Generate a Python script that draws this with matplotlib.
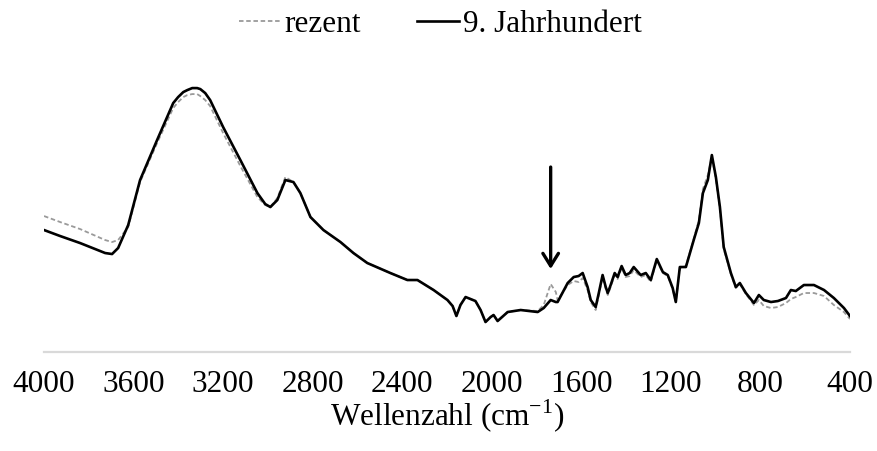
"""FTIR spectrum: rezent vs 9. Jahrhundert."""

import matplotlib

matplotlib.use("Agg")
import matplotlib.pyplot as plt
from matplotlib.patches import ArrowStyle

# wavenumber (cm-1) and absorbance (a.u.)
wavenumber = [4000, 3928, 3839, 3727, 3696, 3669, 3624, 3571, 3495, 3423,
              3401, 3378, 3360, 3338, 3316, 3302, 3280, 3258, 3200, 3123,
              3047, 3012, 2989, 2958, 2922, 2886, 2855, 2810, 2752, 2676,
              2618, 2556, 2453, 2377, 2332, 2260, 2198, 2175, 2158, 2140,
              2117, 2073, 2050, 2028, 2005, 1992, 1974, 1929, 1871, 1795,
              1768, 1737, 1714, 1706, 1661, 1634, 1612, 1594, 1572, 1558,
              1536, 1522, 1505, 1491, 1482, 1469, 1451, 1438, 1420, 1402,
              1384, 1366, 1335, 1312, 1290, 1263, 1236, 1214, 1192, 1178,
              1160, 1133, 1098, 1075, 1057, 1035, 1017, 999, 981, 964,
              932, 910, 892, 865, 829, 807, 785, 753, 722, 686,
              664, 642, 606, 561, 516, 472, 427, 400]

abs_9jh = [1.22, 1.16, 1.09, 0.99, 0.98, 1.04, 1.27, 1.72, 2.12, 2.49,
           2.55, 2.60, 2.62, 2.64, 2.64, 2.63, 2.59, 2.52, 2.25, 1.92,
           1.59, 1.48, 1.45, 1.52, 1.72, 1.70, 1.59, 1.35, 1.22, 1.10,
           0.99, 0.89, 0.79, 0.72, 0.72, 0.62, 0.52, 0.46, 0.36, 0.47,
           0.55, 0.51, 0.42, 0.30, 0.35, 0.37, 0.31, 0.40, 0.42, 0.40,
           0.44, 0.52, 0.50, 0.50, 0.69, 0.75, 0.76, 0.79, 0.65, 0.52,
           0.45, 0.59, 0.77, 0.65, 0.59, 0.67, 0.79, 0.75, 0.86, 0.77,
           0.79, 0.85, 0.77, 0.79, 0.72, 0.93, 0.80, 0.77, 0.64, 0.50,
           0.85, 0.85, 1.12, 1.29, 1.59, 1.72, 1.97, 1.75, 1.45, 1.05,
           0.79, 0.65, 0.69, 0.59, 0.49, 0.57, 0.52, 0.50, 0.51, 0.54,
           0.62, 0.61, 0.67, 0.67, 0.62, 0.54, 0.44, 0.36]

abs_rezent = [1.36, 1.30, 1.23, 1.12, 1.10, 1.12, 1.25, 1.70, 2.09, 2.44,
              2.50, 2.55, 2.57, 2.58, 2.58, 2.56, 2.52, 2.46, 2.19, 1.86,
              1.55, 1.47, 1.45, 1.54, 1.75, 1.70, 1.59, 1.35, 1.22, 1.10,
              0.99, 0.89, 0.79, 0.72, 0.72, 0.62, 0.52, 0.46, 0.36, 0.47,
              0.55, 0.51, 0.42, 0.30, 0.35, 0.37, 0.31, 0.40, 0.42, 0.41,
              0.47, 0.68, 0.60, 0.52, 0.67, 0.71, 0.70, 0.74, 0.62, 0.50,
              0.42, 0.57, 0.75, 0.63, 0.57, 0.65, 0.77, 0.73, 0.84, 0.75,
              0.76, 0.82, 0.75, 0.77, 0.70, 0.92, 0.79, 0.76, 0.63, 0.50,
              0.84, 0.86, 1.13, 1.32, 1.63, 1.77, 1.95, 1.73, 1.43, 1.03,
              0.78, 0.64, 0.68, 0.58, 0.47, 0.52, 0.46, 0.44, 0.45, 0.49,
              0.53, 0.55, 0.59, 0.59, 0.56, 0.47, 0.40, 0.33]

xticks = [4000, 3600, 3200, 2800, 2400, 2000, 1600, 1200, 800, 400]
arrow_at = 1737  # marked band

plt.rcParams["font.family"] = ["Liberation Serif", "DejaVu Serif"]
plt.rcParams["mathtext.fontset"] = "custom"
plt.rcParams["mathtext.rm"] = "Liberation Serif"

fig = plt.figure(figsize=(8.77, 4.51), dpi=100)
ax = fig.add_axes([0.0502, 0.2195, 0.9190, 0.665])

ax.plot(wavenumber, abs_rezent, color="#9a9a9a", lw=1.3,
        linestyle=(0, (2.5, 1.5)), label="rezent")
ax.plot(wavenumber, abs_9jh, color="black", lw=1.9, label="9. Jahrhundert")

ax.annotate("", xy=(arrow_at, 0.83), xytext=(arrow_at, 1.85),
            arrowprops=dict(arrowstyle=ArrowStyle("->", head_length=0.45, head_width=0.28),
                            lw=2.4, color="black", mutation_scale=20,
                            shrinkA=0, shrinkB=0))

ax.set_xlim(4000, 400)
ax.set_ylim(0, 3.0)
ax.set_xticks(xticks)
ax.set_xticklabels([str(t) for t in xticks])
ax.set_yticks([])
ax.tick_params(axis="x", length=0, pad=13, labelsize=22.5)
for s in ["top", "left", "right"]:
    ax.spines[s].set_visible(False)
ax.spines["bottom"].set_color("#d9d9d9")
ax.spines["bottom"].set_linewidth(1.6)
ax.set_xlabel("Wellenzahl (cm$^{\\mathrm{-1}}$)", fontsize=22.5, labelpad=-1)

fig.legend(loc="center", bbox_to_anchor=(0.502, 0.945), ncol=2, frameon=False,
           fontsize=22.5, handlelength=1.35, handletextpad=0.1, columnspacing=1.8)

fig.savefig("out.png", dpi=100)
